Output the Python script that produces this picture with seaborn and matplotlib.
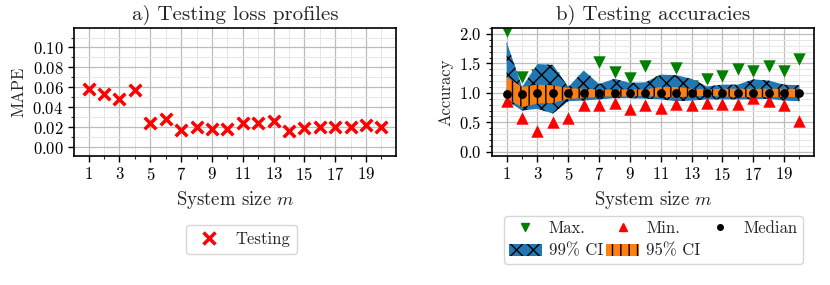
import numpy as np
import pandas as pd
import matplotlib
matplotlib.use("Agg")
import matplotlib.pyplot as plt
from matplotlib.ticker import MultipleLocator
from matplotlib.lines import Line2D
from matplotlib.patches import Patch
import seaborn as sns

# ---------------- data ----------------
m = list(range(1, 21))
mape = [0.0583, 0.0532, 0.0485, 0.0576, 0.0246, 0.0280, 0.0172, 0.0205, 0.0184, 0.0185,
        0.0238, 0.0240, 0.0266, 0.0162, 0.0195, 0.0205, 0.0199, 0.0205, 0.0222, 0.0202]

acc_max = [2.05, 1.27, 1.30, 1.25, 1.02, 1.20, 1.52, 1.35, 1.25, 1.46,
           1.18, 1.43, 1.12, 1.24, 1.28, 1.41, 1.37, 1.45, 1.38, 1.58]
acc_min = [0.86, 0.58, 0.35, 0.51, 0.57, 0.79, 0.79, 0.83, 0.72, 0.79,
           0.74, 0.82, 0.80, 0.83, 0.82, 0.82, 0.91, 0.86, 0.79, 0.52]
acc_median = [0.985, 0.985, 1.0, 1.0, 1.0, 1.0, 1.0, 1.0, 1.0, 1.0,
              1.0, 1.0, 1.0, 1.0, 1.0, 1.0, 1.0, 1.0, 1.0, 1.0]
ci99_low = [0.87, 0.70, 0.73, 0.65, 0.86, 0.87, 0.89, 0.91, 0.91, 0.90,
            0.89, 0.86, 0.87, 0.89, 0.89, 0.89, 0.89, 0.90, 0.87, 0.86]
ci99_high = [1.86, 1.10, 1.49, 1.475, 1.10, 1.38, 1.15, 1.24, 1.17, 1.18,
             1.31, 1.30, 1.24, 1.11, 1.14, 1.14, 1.23, 1.21, 1.14, 1.13]
ci95_low = [0.90, 0.76, 0.82, 0.83, 0.90, 0.91, 0.94, 0.94, 0.94, 0.95,
            0.93, 0.93, 0.94, 0.95, 0.94, 0.93, 0.93, 0.93, 0.93, 0.93]
ci95_high = [1.27, 1.10, 1.14, 1.13, 1.08, 1.07, 1.06, 1.06, 1.06, 1.06,
             1.10, 1.10, 1.07, 1.06, 1.07, 1.07, 1.07, 1.07, 1.07, 1.07]

df_a = pd.DataFrame({"m": m, "mape": mape})
df_b = pd.DataFrame({"m": m, "max": acc_max, "min": acc_min, "median": acc_median,
                     "lo99": ci99_low, "hi99": ci99_high, "lo95": ci95_low, "hi95": ci95_high})

# ---------------- style ----------------
sns.set_theme(style="white")
plt.rcParams.update({
    "font.family": "serif",
    "font.serif": ["cmr10", "DejaVu Serif"],
    "mathtext.fontset": "cm",
    "axes.formatter.use_mathtext": True,
    "axes.unicode_minus": False,
    "font.size": 11,
    "hatch.linewidth": 1.0,
    "hatch.color": "black",
    "xtick.bottom": True, "ytick.left": True,
    "xtick.direction": "out", "ytick.direction": "out",
})

fig = plt.figure(figsize=(8.3, 2.85), dpi=100)
ax1 = fig.add_axes([0.0892, 0.4526, 0.388, 0.449])
ax2 = fig.add_axes([0.5928, 0.4526, 0.388, 0.449])

def style_axes(ax):
    ax.set_xticks(range(1, 21, 2))
    ax.set_xticks(range(2, 21, 2), minor=True)
    ax.grid(True, which="major", color="#bdbdbd", linewidth=0.9)
    ax.grid(True, which="minor", color="#e6e6e6", linewidth=0.7)
    ax.set_axisbelow(True)
    for s in ax.spines.values():
        s.set_color("black")
        s.set_linewidth(1.2)
    ax.tick_params(which="major", length=4, width=1.0, labelsize=12, colors="black")
    ax.tick_params(which="minor", length=2.5, width=0.8)
    ax.set_xlim(0.05, 20.95)

# ---------------- panel a ----------------
sns.scatterplot(data=df_a, x="m", y="mape", ax=ax1, marker="x", color="red",
                s=70, linewidth=2.5, zorder=3, legend=False)
style_axes(ax1)
ax1.yaxis.set_major_locator(MultipleLocator(0.02))
ax1.yaxis.set_minor_locator(MultipleLocator(0.01))
ax1.set_ylim(-0.009, 0.1195)
ax1.set_title("a) Testing loss profiles", fontsize=15)
ax1.set_xlabel("System size $m$", fontsize=13.5)
ax1.set_ylabel("MAPE", fontsize=12)
h_test = Line2D([], [], linestyle="none", marker="x", color="red", markersize=8, markeredgewidth=2.5)
ax1.legend([h_test], ["Testing"], loc="upper center", bbox_to_anchor=(0.52, -0.475),
           frameon=True, edgecolor="#cccccc", fontsize=12, handletextpad=0.6,
           handlelength=2.0, borderpad=0.4, fancybox=True)

# ---------------- panel b ----------------
sns.scatterplot(data=df_b, x="m", y="max", ax=ax2, marker="v", color="green",
                s=80, linewidth=0, legend=False)
ax2.fill_between(df_b["m"], df_b["lo99"], df_b["hi99"], facecolor="#1f77b4",
                 edgecolor="black", linewidth=0, hatch="xx")
ax2.fill_between(df_b["m"], df_b["lo95"], df_b["hi95"], facecolor="#ff7f0e",
                 edgecolor="black", linewidth=0, hatch="||")
sns.scatterplot(data=df_b, x="m", y="min", ax=ax2, marker="^", color="red",
                s=80, linewidth=0, zorder=3, legend=False)
sns.scatterplot(data=df_b, x="m", y="median", ax=ax2, marker="o", color="black",
                s=40, linewidth=0, zorder=4, legend=False)
style_axes(ax2)
ax2.yaxis.set_major_locator(MultipleLocator(0.5))
ax2.yaxis.set_minor_locator(MultipleLocator(0.1))
ax2.set_ylim(-0.07, 2.1)
ax2.set_title("b) Testing accuracies", fontsize=15)
ax2.set_xlabel("System size $m$", fontsize=13.5)
ax2.set_ylabel("Accuracy", fontsize=12)

h_max = Line2D([], [], linestyle="none", marker="v", color="green", markersize=6)
h_min = Line2D([], [], linestyle="none", marker="^", color="red", markersize=6)
h_med = Line2D([], [], linestyle="none", marker="o", color="black", markersize=4)
h_99 = Patch(facecolor="#1f77b4", edgecolor="black", linewidth=0, hatch="xx")
h_95 = Patch(facecolor="#ff7f0e", edgecolor="black", linewidth=0, hatch="||")
ax2.legend([h_max, h_99, h_min, h_95, h_med],
           ["Max.", "99% CI", "Min.", "95% CI", "Median"],
           ncol=3, mode="expand", loc="upper left",
           bbox_to_anchor=(0.01, -0.50, 0.98, 0.1),
           frameon=True, edgecolor="#cccccc", fontsize=12,
           borderpad=0.3, labelspacing=0.45, columnspacing=0.8, handletextpad=0.4,
           handlelength=2.0, fancybox=True)

fig.savefig("out.png", dpi=100)
